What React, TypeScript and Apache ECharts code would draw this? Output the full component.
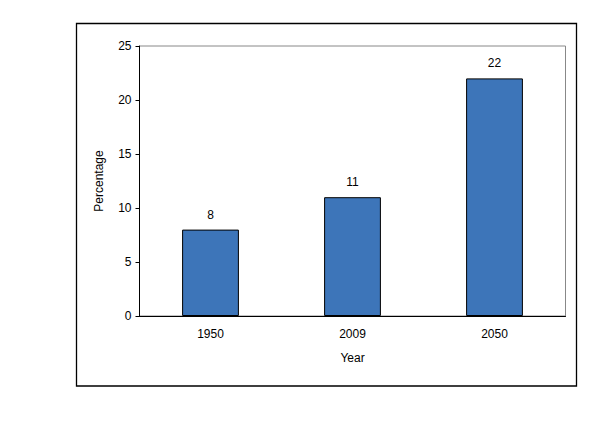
import React, { useEffect, useRef } from "react";
import * as echarts from "echarts";

const categories = ["1950", "2009", "2050"];
const values = [8, 11, 22];
const yTicks = [0, 5, 10, 15, 20, 25];

export default function App() {
  const ref = useRef<HTMLDivElement>(null);
  useEffect(() => {
    if (!ref.current) return;
    const chart = echarts.init(ref.current, null, { renderer: "svg" });
    const font = "'Liberation Sans', Arial, sans-serif";
    chart.setOption({
      animation: false,
      backgroundColor: "#ffffff",
      textStyle: { fontFamily: font },
      graphic: [
        {
          type: "rect",
          shape: { x: 76.5, y: 23.5, width: 500, height: 362.5 },
          style: { fill: "none", stroke: "#000000", lineWidth: 1.3 },
          silent: true,
        },
      ],
      grid: {
        left: 139.5,
        top: 46,
        right: 42.5,
        bottom: 106,
        show: true,
        borderColor: "#888888",
        borderWidth: 1,
        containLabel: false,
      },
      xAxis: {
        type: "category",
        data: categories,
        name: "Year",
        nameLocation: "middle",
        nameGap: 36,
        nameTextStyle: { fontFamily: font, fontSize: 12, color: "#000" },
        axisLine: { lineStyle: { color: "#000", width: 1 } },
        axisTick: { show: false },
        axisLabel: { fontFamily: font, fontSize: 12, color: "#000", margin: 12 },
      },
      yAxis: {
        type: "value",
        min: yTicks[0],
        max: yTicks[yTicks.length - 1],
        interval: 5,
        name: "Percentage",
        nameLocation: "middle",
        nameGap: 35,
        nameTextStyle: { fontFamily: font, fontSize: 12, color: "#000" },
        axisLine: { show: true, lineStyle: { color: "#000", width: 1 } },
        axisTick: { show: true, length: 4, lineStyle: { color: "#000" } },
        axisLabel: { fontFamily: font, fontSize: 12, color: "#000", margin: 8 },
        splitLine: { show: false },
      },
      series: [
        {
          type: "bar",
          data: values,
          barWidth: "40%",
          itemStyle: { color: "#3D75B9", borderColor: "#000", borderWidth: 1 },
          label: {
            show: true,
            position: "top",
            distance: 9,
            fontFamily: font,
            fontSize: 12,
            color: "#000",
          },
        },
      ],
    });
    return () => chart.dispose();
  }, []);
  return (
    <div
      ref={ref}
      style={{ position: "fixed", left: 0, top: 0, width: 608, height: 422 }}
    />
  );
}
